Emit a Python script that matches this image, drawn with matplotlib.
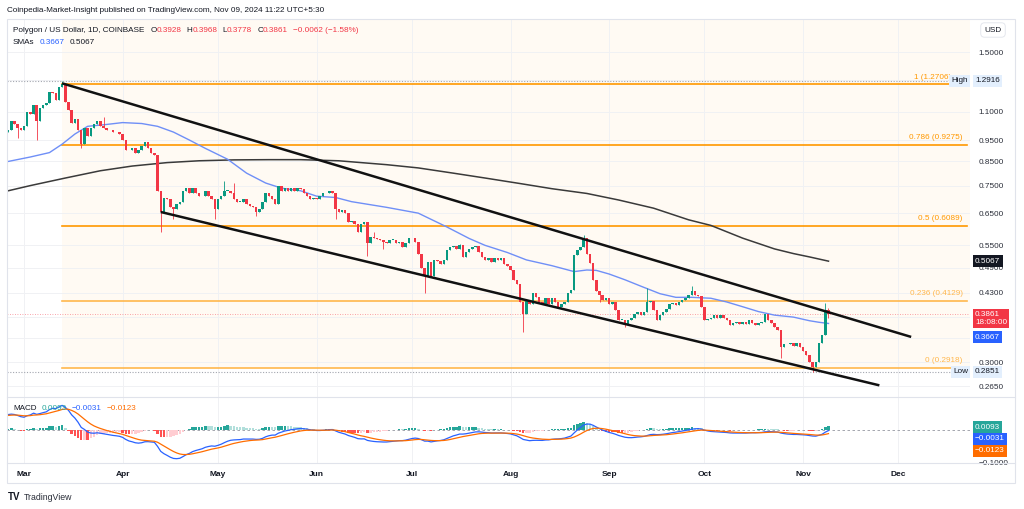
import datetime as dt
import numpy as np
import matplotlib
matplotlib.use("Agg")
import matplotlib.pyplot as plt
import matplotlib.dates as mdates
from matplotlib.patches import Rectangle
from matplotlib.lines import Line2D

plt.rcParams['font.family'] = ['Liberation Sans', 'DejaVu Sans']

# ---------------- data ----------------
first_date = "2024-02-25"
first_open = 0.99
closes_feb = [1.00, 1.05, 1.03, 1.01, 1.00]
closes_mar = [1.02, 1.10, 1.09, 1.14, 1.05, 1.12, 1.14, 1.15, 1.22, 1.21, 1.17, 1.25, 1.27, 1.16, 1.11,
              1.04, 1.06, 1.00, 0.93, 1.01, 0.97, 1.01, 1.03, 1.05, 1.02, 1.01, 1.00, 1.00, 0.99, 0.99, 0.98]
closes_apr = [0.95, 0.90, 0.90, 0.91, 0.89, 0.90, 0.92, 0.94, 0.91, 0.89, 0.88, 0.73, 0.655, 0.705, 0.70,
              0.67, 0.665, 0.68, 0.69, 0.73, 0.74, 0.72, 0.74, 0.72, 0.71, 0.71, 0.73, 0.71, 0.70, 0.665]
closes_may = [0.70, 0.71, 0.73, 0.73, 0.72, 0.70, 0.69, 0.69, 0.70, 0.68, 0.675, 0.67, 0.655, 0.665, 0.69,
              0.72, 0.71, 0.70, 0.68, 0.75, 0.73, 0.74, 0.73, 0.74, 0.73, 0.74, 0.735, 0.72, 0.71, 0.70, 0.705]
closes_jun = [0.70, 0.71, 0.72, 0.72, 0.73, 0.72, 0.665, 0.655, 0.66, 0.65, 0.62, 0.625, 0.615, 0.59, 0.615,
              0.62, 0.556, 0.575, 0.57, 0.568, 0.565, 0.56, 0.558, 0.566, 0.566, 0.556, 0.56, 0.545, 0.556, 0.57]
closes_jul = [0.571, 0.56, 0.527, 0.49, 0.468, 0.505, 0.47, 0.51, 0.507, 0.50, 0.51, 0.537, 0.546, 0.548, 0.54,
              0.55, 0.518, 0.53, 0.54, 0.546, 0.548, 0.532, 0.518, 0.51, 0.515, 0.505, 0.515, 0.51, 0.515, 0.50, 0.495]
closes_aug = [0.485, 0.46, 0.45, 0.41, 0.386, 0.414, 0.405, 0.43, 0.42, 0.41, 0.405, 0.418, 0.405, 0.418, 0.41,
              0.40, 0.405, 0.41, 0.43, 0.436, 0.522, 0.537, 0.545, 0.571, 0.527, 0.503, 0.46, 0.433, 0.426, 0.414, 0.418]
closes_sep = [0.405, 0.41, 0.393, 0.373, 0.373, 0.365, 0.373, 0.378, 0.386, 0.39, 0.383, 0.39, 0.41, 0.412, 0.393,
              0.373, 0.383, 0.39, 0.396, 0.405, 0.407, 0.403, 0.41, 0.414, 0.418, 0.425, 0.433, 0.426, 0.423, 0.40]
closes_oct = [0.373, 0.375, 0.378, 0.383, 0.377, 0.383, 0.377, 0.373, 0.363, 0.368, 0.37, 0.366, 0.37, 0.366, 0.373,
              0.368, 0.363, 0.368, 0.37, 0.386, 0.373, 0.368, 0.36, 0.355, 0.324, 0.329, 0.329, 0.332, 0.327, 0.332, 0.324]
closes_nov = [0.318, 0.312, 0.30, 0.292, 0.30, 0.332, 0.345, 0.3928, 0.3861]

wick_highs = {"2024-03-13": 1.2916, "2024-03-26": 1.07, "2024-05-03": 0.77, "2024-05-06": 0.76,
              "2024-06-19": 0.59, "2024-07-16": 0.555, "2024-08-24": 0.58, "2024-09-13": 0.44,
              "2024-09-27": 0.445, "2024-11-08": 0.407, "2024-11-09": 0.3968}
wick_lows = {"2024-02-28": 0.96, "2024-03-05": 0.95, "2024-03-19": 0.91, "2024-04-13": 0.59,
             "2024-04-17": 0.63, "2024-04-30": 0.63, "2024-05-13": 0.64, "2024-06-07": 0.63,
             "2024-06-17": 0.52, "2024-06-22": 0.54, "2024-07-05": 0.43, "2024-08-05": 0.35,
             "2024-08-29": 0.41, "2024-09-06": 0.36, "2024-10-25": 0.307, "2024-11-04": 0.2851,
             "2024-11-09": 0.3778}

sma50_dates = ["2024-02-25", "2024-03-03", "2024-03-09", "2024-03-13", "2024-03-17", "2024-03-21",
               "2024-03-27", "2024-04-01", "2024-04-07", "2024-04-12", "2024-04-17", "2024-04-22",
               "2024-04-27", "2024-05-04", "2024-05-10", "2024-05-16", "2024-05-21", "2024-05-27",
               "2024-06-01", "2024-06-07", "2024-06-12", "2024-06-23", "2024-07-03", "2024-07-12",
               "2024-07-19", "2024-07-24", "2024-07-31", "2024-08-06", "2024-08-14", "2024-08-21",
               "2024-08-25", "2024-08-28", "2024-09-01", "2024-09-06", "2024-09-11", "2024-09-17",
               "2024-09-22", "2024-09-27", "2024-10-03", "2024-10-08", "2024-10-13", "2024-10-18",
               "2024-10-23", "2024-10-29", "2024-11-03", "2024-11-06", "2024-11-09"]
sma50_values = [0.85, 0.87, 0.89, 0.93, 0.98, 1.02, 1.03, 1.04, 1.035, 1.02, 0.99, 0.95,
                0.91, 0.86, 0.80, 0.76, 0.74, 0.73, 0.71, 0.705, 0.69, 0.67, 0.65, 0.605,
                0.57, 0.55, 0.53, 0.51, 0.495, 0.48, 0.484, 0.483, 0.474, 0.46, 0.445, 0.428,
                0.42, 0.42, 0.418, 0.41, 0.40, 0.39, 0.383, 0.379, 0.372, 0.369, 0.3667]

sma200_dates = ["2024-02-25", "2024-03-03", "2024-03-14", "2024-03-25", "2024-04-04", "2024-04-15",
                "2024-04-25", "2024-05-06", "2024-05-17", "2024-05-27", "2024-06-08", "2024-06-23",
                "2024-07-03", "2024-07-14", "2024-07-24", "2024-08-04", "2024-08-14", "2024-08-25",
                "2024-09-04", "2024-09-15", "2024-09-26", "2024-10-03", "2024-10-13", "2024-10-23",
                "2024-10-29", "2024-11-03", "2024-11-09"]
sma200_values = [0.73, 0.75, 0.78, 0.81, 0.83, 0.845, 0.853, 0.857, 0.858, 0.858, 0.853, 0.836,
                 0.822, 0.80, 0.78, 0.758, 0.738, 0.72, 0.696, 0.667, 0.628, 0.61, 0.571, 0.54,
                 0.527, 0.518, 0.5067]

fib_ratios = ["1", "0.786", "0.5", "0.236", "0"]
fib_prices = [1.2706, 0.9275, 0.6089, 0.4129, 0.2918]
fib_start = "2024-03-13"

upper_channel_dates = ["2024-03-13", "2024-12-05"]
upper_channel_prices = [1.275, 0.342]
lower_channel_dates = ["2024-04-13", "2024-11-25"]
lower_channel_prices = [0.654, 0.266]

high_price = 1.2916
low_price = 0.2851
last_price = 0.3861
sma_fast_last = 0.3667
sma_slow_last = 0.5067

price_ticks = [1.5, 1.3, 1.1, 0.95, 0.85, 0.75, 0.65, 0.55, 0.49, 0.43, 0.38, 0.34, 0.30, 0.265]
hidden_tick_labels = [1.3, 0.38, 0.34]
month_ticks = ["2024-03-01", "2024-04-01", "2024-05-01", "2024-06-01", "2024-07-01",
               "2024-08-01", "2024-09-01", "2024-10-01", "2024-11-01", "2024-12-01"]
month_labels = ["Mar", "Apr", "May", "Jun", "Jul", "Aug", "Sep", "Oct", "Nov", "Dec"]

macd_seed_fast = 0.990
macd_seed_slow = 0.942
macd_seed_signal = 0.042
macd_legend_values = ["0.0093", "\u22120.0031", "\u22120.0123"]

# ---------------- derived ----------------
closes = np.array(closes_feb + closes_mar + closes_apr + closes_may + closes_jun +
                  closes_jul + closes_aug + closes_sep + closes_oct + closes_nov)
n = len(closes)
start = np.datetime64(first_date)
dates = start + np.arange(n)
xd = mdates.date2num(dates.astype('datetime64[s]'))
opens = np.concatenate([[first_open], closes[:-1]])
highs = np.maximum(opens, closes)
lows = np.minimum(opens, closes)
for k, v in wick_highs.items():
    highs[int((np.datetime64(k) - start).astype(int))] = v
for k, v in wick_lows.items():
    lows[int((np.datetime64(k) - start).astype(int))] = v


def dnum(s):
    return mdates.date2num(np.datetime64(s).astype('datetime64[s]'))


ef, es, sg = macd_seed_fast, macd_seed_slow, macd_seed_signal
macd, sig = [], []
for c in closes:
    ef += (c - ef) * 2 / 13
    es += (c - es) * 2 / 27
    m = ef - es
    sg += (m - sg) * 2 / 10
    macd.append(m)
    sig.append(sg)
macd = np.array(macd)
sig = np.array(sig)
hist = macd - sig
hcols = []
for i, h in enumerate(hist):
    prev = hist[i - 1] if i > 0 else h
    if h >= 0:
        hcols.append('#26A69A' if h >= prev else '#B2DFDB')
    else:
        hcols.append('#FFCDD2' if h > prev else '#FF5252')

# ---------------- figure ----------------
W, H = 1024, 509
fig = plt.figure(figsize=(W / 100, H / 100), dpi=100)
fig.patch.set_facecolor('white')

L = 7 / W
AW = 963 / W
ax = fig.add_axes([L, (H - 397) / H, AW, 378 / H])
ax2 = fig.add_axes([L, (H - 463) / H, AW, 66 / H])

x0 = dnum("2024-03-01")
xmin, xmax = x0 - 5.35, x0 + 297.5
ytop, ybot = 1.7802, 0.2504

for a in (ax, ax2):
    a.set_xlim(xmin, xmax)
    for s in a.spines.values():
        s.set_visible(False)
    a.set_facecolor('none')
    a.set_xticks([dnum(m) for m in month_ticks])
    a.grid(axis='x', color='#f0f1f4', lw=0.7)
    a.set_axisbelow(True)

ax.set_yscale('log')
ax.set_ylim(ybot, ytop)
ax.yaxis.tick_right()
ax.set_yticks(price_ticks)
ax.set_yticklabels(["" if t in hidden_tick_labels else "%.4f" % t for t in price_ticks])
ax.yaxis.set_minor_locator(matplotlib.ticker.NullLocator())
ax.tick_params(axis='y', length=0, pad=6, labelsize=5.9, labelcolor='#2a2e39')
ax.tick_params(axis='x', length=0, labelbottom=False)
ax.grid(axis='y', color='#f0f1f4', lw=0.7)

# fib shaded area
fx = dnum(fib_start)
ax.fill_between([fx, xmax], fib_prices[-1], ytop, color='#fffaf3', zorder=0.5, lw=0)

# fib lines and labels
fib_cols = ['#FF9800', '#FF9800', '#FF9800', '#FFB74D', '#FFB74D']
fib_label_shift = [-8.5, 0, 0, 0, 0]
for r, p, col, sh in zip(fib_ratios, fib_prices, fib_cols, fib_label_shift):
    ax.plot([fx, xmax - 1], [p, p], color=col, lw=1.2, zorder=2)
    ax.annotate("%s (%.4f)" % (r, p), xy=(xmax - 2.3, p), xytext=(sh, 2.5), textcoords='offset points',
                ha='right', va='bottom', fontsize=5.9, color=col, zorder=2)

# high / low / last price dotted lines
ax.axhline(high_price, color='#a3a6af', lw=0.8, ls=(0, (1, 1.5)), zorder=1)
ax.axhline(low_price, color='#a3a6af', lw=0.8, ls=(0, (1, 1.5)), zorder=1)
ax.axhline(last_price, color='#F23645', lw=0.6, ls=(0, (1, 2)), alpha=0.6, zorder=1)

# moving averages
ax.plot(mdates.date2num(np.array(sma200_dates, dtype='datetime64[s]')), sma200_values,
        color='#3a3a3a', lw=1.1, zorder=3)
ax.plot(mdates.date2num(np.array(sma50_dates, dtype='datetime64[s]')), sma50_values,
        color='#6f8ff7', lw=1.0, zorder=3)

# candles
up = closes >= opens
ccol = np.where(up, '#089981', '#F23645')
ax.vlines(xd, lows, highs, colors=ccol, lw=0.6, zorder=4)
body_h = np.abs(closes - opens)
body_b = np.minimum(opens, closes)
body_h = np.where(body_h < 0.0015, 0.0015, body_h)
ax.bar(xd, body_h, bottom=body_b, width=0.78, color=ccol, lw=0, zorder=5)

# channel lines
ax.plot([dnum(d) for d in upper_channel_dates], upper_channel_prices, color='#111111', lw=1.8, zorder=6,
        solid_capstyle='butt')
ax.plot([dnum(d) for d in lower_channel_dates], lower_channel_prices, color='#111111', lw=1.8, zorder=6,
        solid_capstyle='butt')

# price-scale badges
yt = ax.get_yaxis_transform()
bx = (975 - 7) / 963


def badge(y, text, fc, tc, dx=bx, dy=0, a=ax, tr=None):
    a.annotate(text, xy=(dx, y), xycoords=tr if tr is not None else yt, xytext=(0, dy),
               textcoords='offset points', ha='left', va='center', fontsize=5.9, color=tc,
               zorder=20, annotation_clip=False, linespacing=1.15,
               bbox=dict(boxstyle='square,pad=0.28', fc=fc, ec='none'))


badge(high_price, "High", '#e3effd', '#131722', dx=(951 - 7) / 963)
badge(high_price, "1.2916", '#e3effd', '#131722')
badge(low_price, "Low", '#e3effd', '#131722', dx=(953 - 7) / 963)
badge(low_price, "0.2851", '#e3effd', '#131722')
badge(sma_slow_last, "0.5067", '#131722', 'white')
badge(last_price, "0.3861\n18:08:00", '#F23645', 'white', dy=-3.8)
badge(sma_fast_last, "0.3667", '#2962FF', 'white', dy=-9.8)

# ---------------- MACD pane ----------------
ax2.set_ylim(-0.1015, 0.0985)
ax2.yaxis.tick_right()
ax2.set_yticks([-0.1])
ax2.set_yticklabels(["\u22120.1000"])
ax2.tick_params(axis='y', length=0, pad=6, labelsize=5.9, labelcolor='#2a2e39')
ax2.set_xticklabels(month_labels)
ax2.tick_params(axis='x', length=0, pad=5.5, labelsize=6.0, labelcolor='#131722')
for t in ax2.get_xticklabels():
    t.set_fontweight('bold')
ax2.axhline(0, color='#9598a1', lw=0.6, ls=(0, (3, 3)), zorder=1)
ax2.bar(xd, hist, width=0.78, color=hcols, lw=0, zorder=2)
ax2.plot(xd, macd, color='#2962FF', lw=0.9, zorder=3)
ax2.plot(xd, sig, color='#FF6D00', lw=0.9, zorder=3)
mt = ax2.transAxes
badge(0.545, macd_legend_values[0], '#26A69A', 'white', a=ax2, tr=mt)
badge(0.364, macd_legend_values[1], '#2962FF', 'white', a=ax2, tr=mt)
badge(0.182, macd_legend_values[2], '#FF6D00', 'white', a=ax2, tr=mt)

# ---------------- frame & text ----------------
fig.add_artist(Rectangle((7 / W, 1 - 483 / H), 1008 / W, 464 / H, transform=fig.transFigure,
                         fill=False, ec='#e0e3eb', lw=0.8))
for yy in (397, 463):
    fig.add_artist(Line2D([7 / W, 1015 / W], [1 - yy / H, 1 - yy / H], transform=fig.transFigure,
                          color='#e0e3eb', lw=0.8))

fig.text(7 / W, 1 - 10 / H, "Coinpedia-Market-Insight published on TradingView.com, Nov 09, 2024 11:22 UTC+5:30",
         fontsize=5.9, color='#131722', va='center', ha='left')

renderer = fig.canvas.get_renderer()


def run_text(x_px, y_px, parts, size=5.9):
    x = x_px
    for s, col, gap in parts:
        t = fig.text(x / W, 1 - y_px / H, s, color=col, fontsize=size, ha='left', va='center')
        x += t.get_window_extent(renderer).width + gap


DK = '#131722'
RD = '#F23645'
run_text(13, 30, [("Polygon / US Dollar, 1D, COINBASE", DK, 6), ("O", DK, 0), ("0.3928", RD, 5),
                  ("H", DK, 0), ("0.3968", RD, 5), ("L", DK, 0), ("0.3778", RD, 5), ("C", DK, 0),
                  ("0.3861", RD, 5), ("\u22120.0062 (\u22121.58%)", RD, 0)])
run_text(13, 42, [("SMAs", DK, 5), ("0.3667", '#2962FF', 5), ("0.5067", DK, 0)])
run_text(13, 409, [("MACD", DK, 5), (macd_legend_values[0], '#26A69A', 5),
                   (macd_legend_values[1], '#2962FF', 5), (macd_legend_values[2], '#FF6D00', 0)])

fig.text(993 / W, 1 - 30 / H, "USD", fontsize=5.9, color=DK, ha='center', va='center',
         bbox=dict(boxstyle='round,pad=0.45', fc='white', ec='#e0e3eb', lw=0.6))

fig.text(8 / W, 1 - 497 / H, "TV", fontsize=7, fontweight='bold', color=DK, ha='left', va='center')
fig.text(24 / W, 1 - 497 / H, "TradingView", fontsize=6.3, color='#2a2e39', ha='left', va='center')

fig.savefig("out.png", dpi=100, facecolor='white')
